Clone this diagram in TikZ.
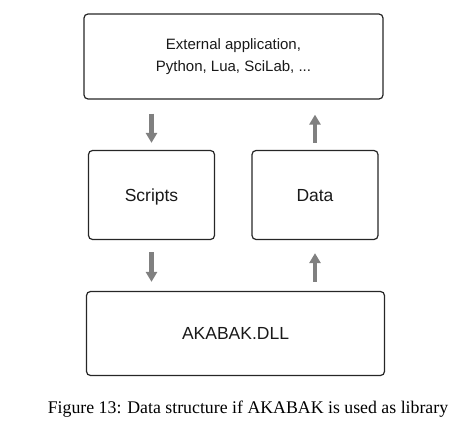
\documentclass[tikz,border=0pt]{standalone}
\usepackage{fontspec}
\setmainfont{Liberation Sans}
\newfontfamily\capfont{Liberation Serif}
\usetikzlibrary{arrows.meta}
\begin{document}
\begin{tikzpicture}[x=1pt,y=-1pt,
  box/.style={draw=black!85, line width=1.2pt, rounded corners=4pt, inner sep=0pt, text=black!90},
  flow/.style={draw=black!50, line width=4.5pt, -{Triangle[width=11pt,length=10pt]}},
]
\useasboundingbox (0,0) rectangle (472,433);
\node[box, minimum width=299pt, minimum height=85pt, font=\fontsize{15}{21.5}\selectfont, align=center] (ext) at (233.5,56.5) {External application,\\Python, Lua, SciLab, ...};
\node[box, minimum width=126pt, minimum height=89pt, font=\fontsize{17.5}{20}\selectfont, text depth=0pt] (scr) at (151.5,195) {Scripts};
\node[box, minimum width=126pt, minimum height=89pt, font=\fontsize{17.5}{20}\selectfont, text depth=0pt] (dat) at (315,195) {Data};
\node[box, minimum width=298pt, minimum height=84pt, font=\fontsize{17.5}{20}\selectfont] (dll) at (235.5,333.5) {AKABAK.DLL};
\node[font=\capfont\fontsize{17.8}{20}\selectfont, text=black] (cap) at (248,409) {Figure 13: Data structure if AKABAK is used as library};
\draw[flow, shorten <=14pt, shorten >=7pt] (scr.north |- ext.south) -- (scr.north);
\draw[flow, shorten <=7pt, shorten >=15pt] (dat.north) -- (dat.north |- ext.south);
\draw[flow, shorten <=12pt, shorten >=9pt] (scr.south) -- (scr.south |- dll.north);
\draw[flow, shorten <=9pt, shorten >=13pt] (dat.south |- dll.north) -- (dat.south);
\end{tikzpicture}
\end{document}
